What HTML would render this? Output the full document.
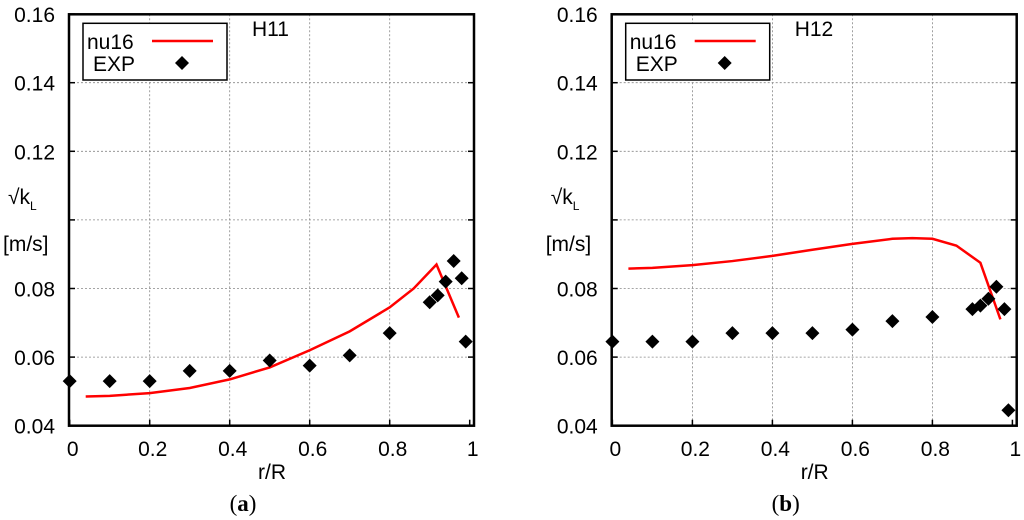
<!DOCTYPE html>
<html><head><meta charset="utf-8"><style>
body{margin:0;background:#fff;}
svg{display:block;font-family:"Liberation Sans",sans-serif;}
</style></head><body>
<svg id="chart" width="1024" height="520" viewBox="0 0 1024 520" xmlns="http://www.w3.org/2000/svg"></svg>
<script>
const xTicks=[0,0.2,0.4,0.6,0.8,1];
const xTickLabels=["0","0.2","0.4","0.6","0.8","1"];
const yTicks=[0.04,0.06,0.08,0.10,0.12,0.14,0.16];
const yTickLabels=["0.04","0.06","0.08","","0.12","0.14","0.16"];
const expXa=[0,0.1,0.2,0.3,0.4,0.5,0.6,0.7,0.8,0.9,0.92,0.94,0.96,0.98,0.99];
const expYa=[0.053,0.053,0.053,0.056,0.056,0.059,0.0575,0.0605,0.067,0.076,0.078,0.082,0.088,0.083,0.0645];
const lineXa=[0.04,0.1,0.2,0.3,0.4,0.5,0.6,0.7,0.8,0.86,0.917,0.973];
const lineYa=[0.0485,0.0487,0.0495,0.051,0.0535,0.057,0.062,0.0675,0.0745,0.080,0.087,0.0715];
const expXb=[0,0.1,0.2,0.3,0.4,0.5,0.6,0.7,0.8,0.9,0.92,0.94,0.96,0.98,0.99];
const expYb=[0.0645,0.0645,0.0645,0.067,0.067,0.067,0.068,0.0705,0.0717,0.074,0.075,0.077,0.0805,0.074,0.0445];
const lineXb=[0.04,0.1,0.2,0.3,0.4,0.5,0.6,0.7,0.75,0.8,0.86,0.92,0.97];
const lineYb=[0.0858,0.086,0.0868,0.088,0.0895,0.0913,0.093,0.0945,0.0947,0.0945,0.0925,0.0875,0.071];
const NS="http://www.w3.org/2000/svg";
const svg=document.getElementById('chart');
function mk(tag,attrs,parent,text){const e=document.createElementNS(NS,tag);for(const k in attrs)e.setAttribute(k,attrs[k]);if(text!==undefined)e.textContent=text;parent.appendChild(e);return e;}
function panel(ox,title,tag,lx,ly,ex,ey,id){
  const g=mk('g',{},svg);
  
  
  const X=v=>ox+0.7+v*400, Y=v=>425.7-(v-0.04)/0.02*68.6;
  const fl=ox, fr=ox+405, ft=14.3, fb=425.7;
  xTicks.forEach((t,i)=>{
    if(t>0&&t<1){const gl=mk('line',{x1:X(t),x2:X(t),y1:ft,y2:fb,stroke:'#888','stroke-width':0.8,'stroke-dasharray':'2,2'},g);
    }
    mk('line',{x1:X(t),x2:X(t),y1:fb,y2:fb-6,stroke:'#000','stroke-width':1.5},g);
    const tl=mk('text',{x:X(t)+3,y:456,'font-size':21,'text-anchor':'middle'},g,xTickLabels[i]);
    
  });
  yTicks.forEach((t,i)=>{
    if(t>0.041&&t<0.159){const gl=mk('line',{x1:fl,x2:fr,y1:Y(t),y2:Y(t),stroke:'#888','stroke-width':0.8,'stroke-dasharray':'2,2'},g);
    }
    mk('line',{x1:fl,x2:fl+6,y1:Y(t),y2:Y(t),stroke:'#000','stroke-width':1.5},g);
    mk('line',{x1:fr,x2:fr-6,y1:Y(t),y2:Y(t),stroke:'#000','stroke-width':1.5},g);
    if(yTickLabels[i]){const tl=mk('text',{x:ox-14,y:Y(t)+8,'font-size':21,'text-anchor':'end'},g,yTickLabels[i]);
    }
  });
  const fr2=mk('rect',{x:fl,y:ft,width:fr-fl,height:fb-ft,fill:'none',stroke:'#000','stroke-width':2.5},g);
  
  const pts=lx.map((v,i)=>X(v)+','+Y(ly[i])).join(' ');
  const pl=mk('polyline',{points:pts,fill:'none',stroke:'#f00','stroke-width':2.5},g);
  
  ex.forEach((v,i)=>{const cx=X(v),cy=Y(ey[i]);
    const d=mk('polygon',{points:`${cx},${cy-7} ${cx+7},${cy} ${cx},${cy+7} ${cx-7},${cy}`,fill:'#000'},g);
    });
  const lg=mk('g',{},g);
  
  mk('rect',{x:ox+14,y:23.3,width:144,height:56.7,fill:'#fff',stroke:'#000','stroke-width':1.5},lg);
  mk('text',{x:ox+18,y:49,'font-size':21},lg,'nu16');
  mk('line',{x1:ox+83,x2:ox+144,y1:41,y2:41,stroke:'#f00','stroke-width':2.5},lg);
  mk('text',{x:ox+24,y:71,'font-size':21},lg,'EXP');
  const cx=ox+113,cy=63;
  mk('polygon',{points:`${cx},${cy-7} ${cx+7},${cy} ${cx},${cy+7} ${cx-7},${cy}`,fill:'#000'},lg);
  const tt=mk('text',{x:ox+183,y:36,'font-size':21},g,title);
  
  const yl=mk('text',{x:ox-61,y:204,'font-size':21},g);
  
  mk('tspan',{},yl,'√k');
  mk('tspan',{'font-size':12,dy:6},yl,'L');
  mk('text',{x:ox-66,y:251,'font-size':21},g,'[m/s]');
  const xl=mk('text',{x:ox+203,y:479,'font-size':21,'text-anchor':'middle'},g,'r/R');
  
  const cap=mk('text',{x:ox+174,y:511,'font-size':23,'text-anchor':'middle','font-family':'Liberation Serif, serif'},g);
  
  mk('tspan',{},cap,'(');mk('tspan',{'font-weight':'bold'},cap,tag);mk('tspan',{},cap,')');
}
panel(69,'H11','a',lineXa,lineYa,expXa,expYa,'a');
panel(611.7,'H12','b',lineXb,lineYb,expXb,expYb,'b');
</script>
</body></html>
